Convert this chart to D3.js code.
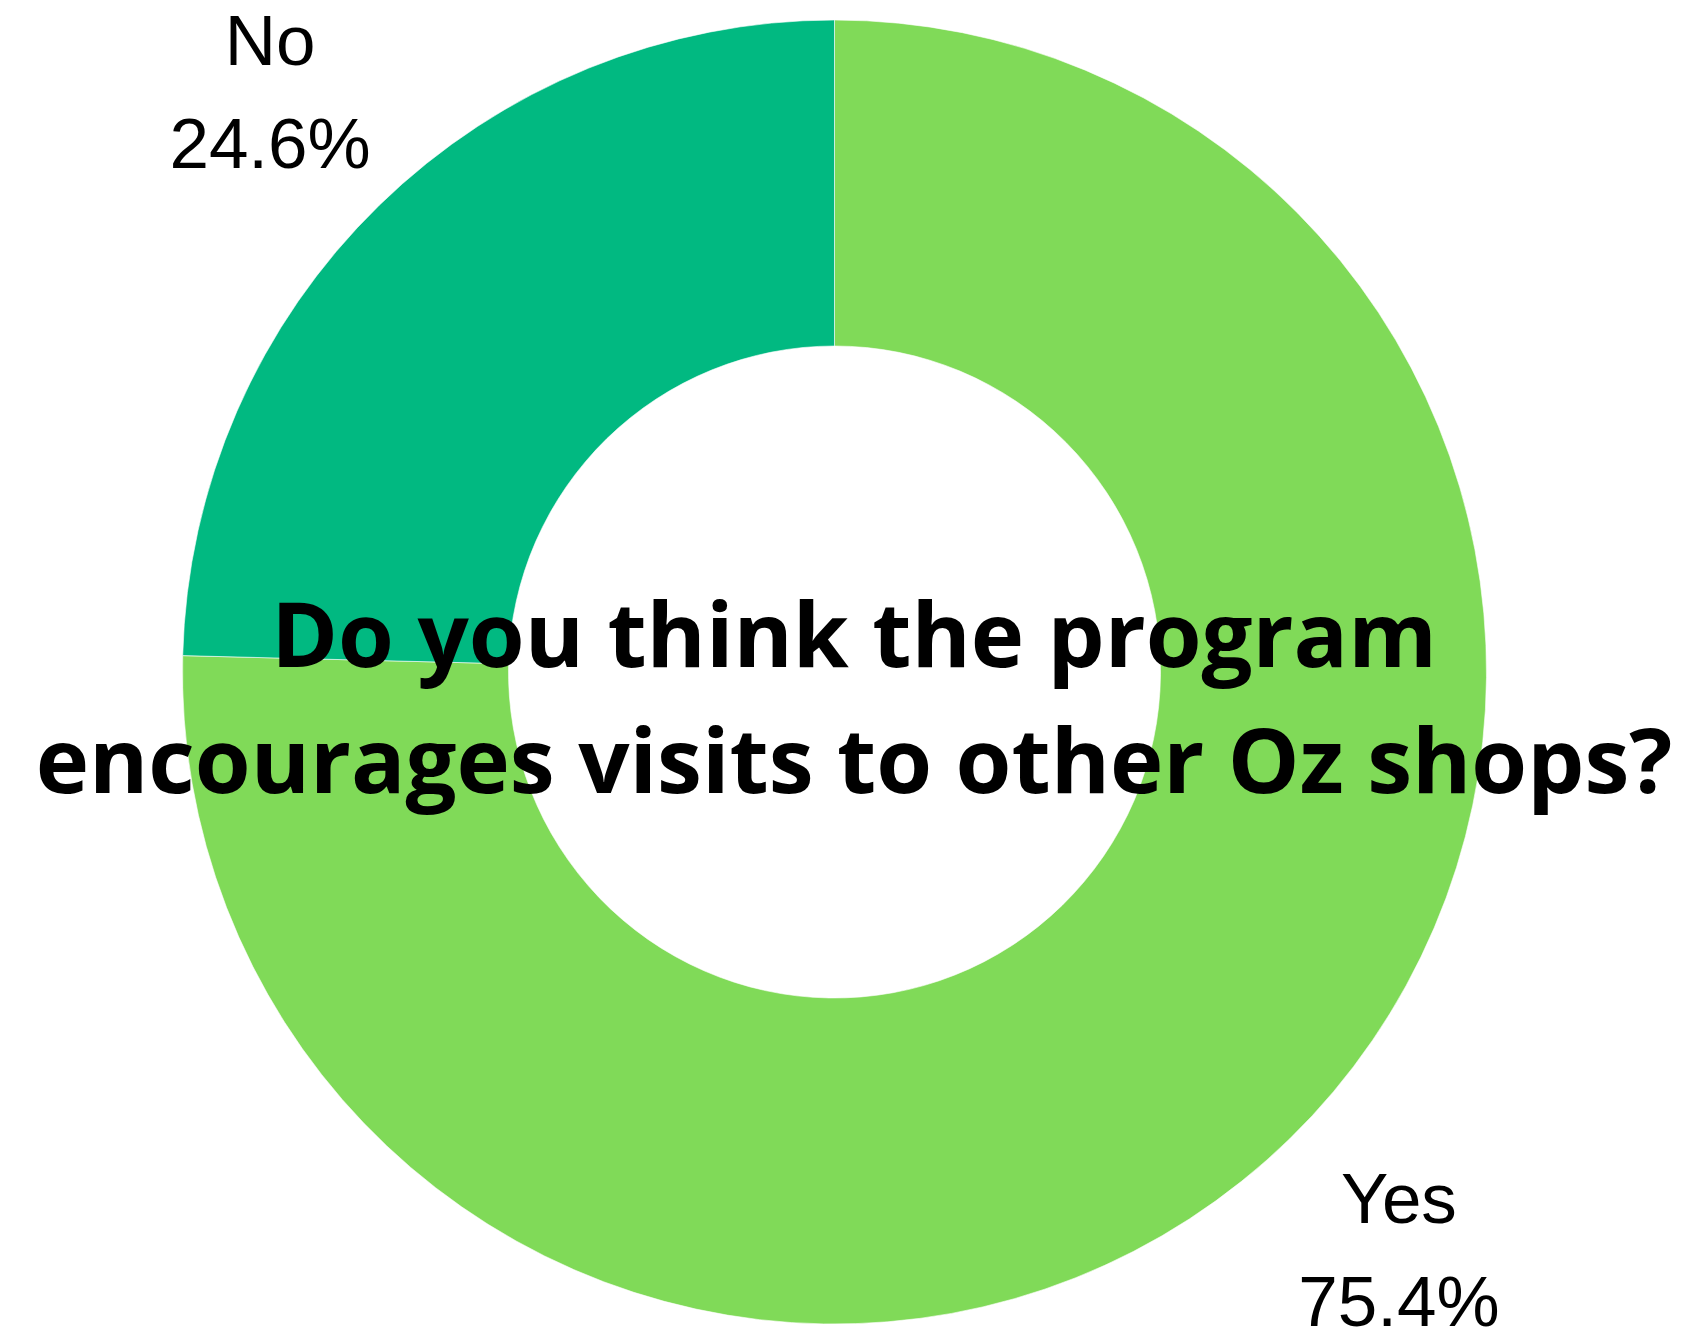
<!DOCTYPE html>
<html><head><meta charset="utf-8">
<script src="https://cdn.jsdelivr.net/npm/d3@7"></script>
<style>html,body{margin:0;padding:0;background:#fff;overflow:hidden}</style>
</head><body>
<svg id="chart" width="1698" height="1334"></svg>
<script>
const categories = ["Yes", "No"];
const values = [75.4, 24.6];
const colors = ["#80da58", "#01b981"];
const titleLines = ["Do you think the program", "encourages visits to other Oz shops?"];

const W = 1698, H = 1334;
const cx = 834.5, cy = 672, R = 652, r = 326;
const svg = d3.select("#chart");
const g = svg.append("g").attr("transform", `translate(${cx},${cy})`);

const pie = d3.pie().sort(null).value(d => d.v);
const data = pie(categories.map((c, i) => ({c, v: values[i], col: colors[i]})));
const arc = d3.arc().innerRadius(r).outerRadius(R);
g.selectAll("path.slice").data(data).enter().append("path")
  .attr("class", "slice")
  .attr("d", arc)
  .attr("fill", d => d.data.col)
  .attr("stroke", "#fff").attr("stroke-width", 0.6);

const labelArc = d3.arc().innerRadius(R * 1.24).outerRadius(R * 1.24);
const lab = g.selectAll("g.lab").data(data).enter().append("g")
  .attr("class", "lab")
  .attr("transform", d => `translate(${labelArc.centroid(d)})`);
lab.append("text").attr("text-anchor", "middle").attr("y", -28)
  .attr("font-family", "Liberation Sans, Arial, sans-serif").attr("font-size", 71)
  .attr("fill", "#000").text(d => d.data.c);
lab.append("text").attr("text-anchor", "middle").attr("y", 75)
  .attr("font-family", "Liberation Sans, Arial, sans-serif").attr("font-size", 71)
  .attr("fill", "#000").text(d => d.data.v.toFixed(1) + "%");

const title = svg.append("text").attr("text-anchor", "middle")
  .attr("font-family", "'Open Sans', sans-serif").attr("font-weight", 700)
  .attr("font-size", 90).attr("fill", "#000");
const spans = titleLines.map((t, i) =>
  title.append("tspan").attr("x", 854).attr("y", 666.5 + i * 126).text(t));
// fit the longer line to the reference width
const w = spans[1].node().getComputedTextLength();
if (w > 0) {
  const fs = Math.max(85, Math.min(96, 90 * 1637 / w));
  title.attr("font-size", fs);
}
</script>
</body></html>
